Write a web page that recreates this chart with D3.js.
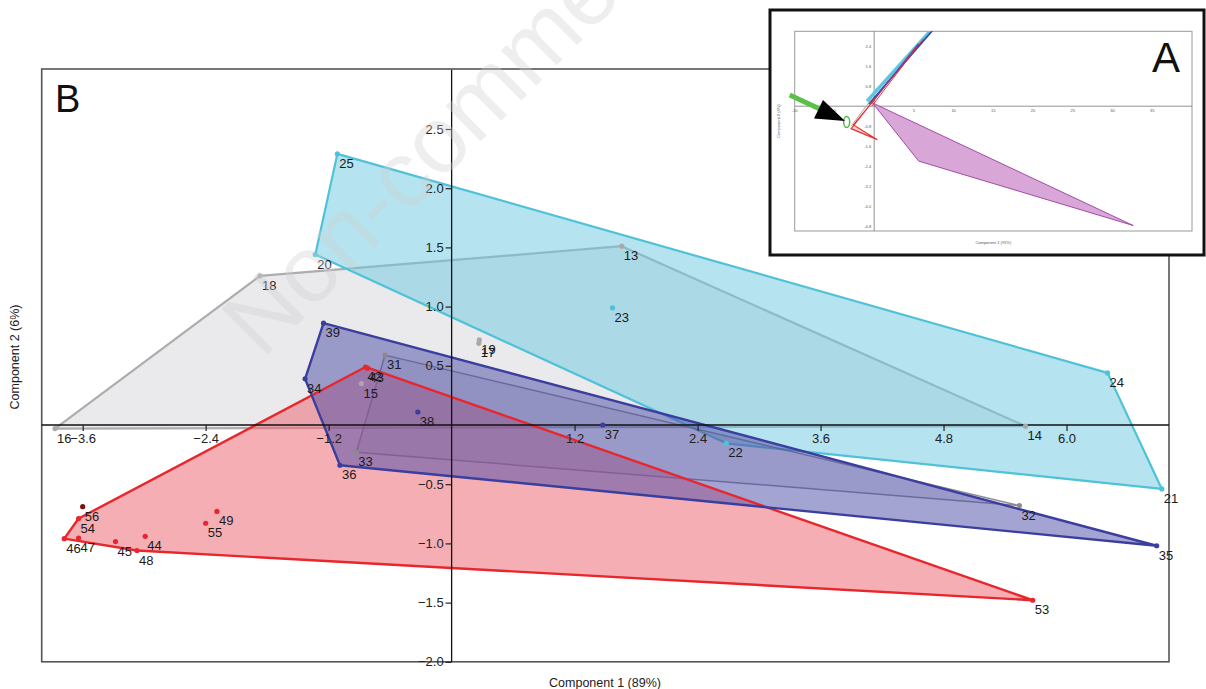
<!DOCTYPE html>
<html>
<head>
<meta charset="utf-8">
<script src="https://cdn.jsdelivr.net/npm/d3@7"></script>
<style>
  body { margin: 0; background: #fff; }
  svg { display: block; font-family: "Liberation Sans", Arial, sans-serif; }
</style>
</head>
<body>
<svg id="chart" width="1206" height="689"></svg>
<script>
// ---- main plot data (Component 1 / Component 2 scores) ----
let greyIds = ["13", "14", "15", "16", "17", "18", "19"];
let greyX = [1.66, 5.60, -0.88, -3.87, 0.265, -1.87, 0.27];
let greyY = [1.51, -0.01, 0.35, -0.03, 0.69, 1.26, 0.72];

let cyanIds = ["20", "21", "22", "23", "24", "25"];
let cyanX = [-1.33, 6.93, 2.68, 1.57, 6.40, -1.115];
let cyanY = [1.44, -0.54, -0.155, 0.99, 0.44, 2.29];

let dgreyIds = ["31", "32", "33"];
let dgreyX = [-0.65, 5.54, -0.93];
let dgreyY = [0.59, -0.68, -0.23];

let blueIds = ["34", "35", "36", "37", "38", "39"];
let blueX = [-1.43, 6.88, -1.09, 1.475, -0.33, -1.25];
let blueY = [0.39, -1.02, -0.34, 0.0, 0.11, 0.86];

let redIds = ["42", "43", "44", "45", "46", "47", "48", "49", "53", "54", "55"];
let redX = [-0.84, -0.82, -2.99, -3.28, -3.78, -3.64, -3.07, -2.29, 5.67, -3.64, -2.40];
let redY = [0.49, 0.48, -0.94, -0.985, -0.96, -0.955, -1.06, -0.73, -1.48, -0.79, -0.83];

let dredIds = ["56"];
let dredX = [-3.60];
let dredY = [-0.69];

let xTicks = [-3.6, -2.4, -1.2, 1.2, 2.4, 3.6, 4.8, 6.0];
let yTicks = [2.5, 2.0, 1.5, 1.0, 0.5, -0.5, -1.0, -1.5, -2.0];

// ---- inset (panel A) data ----
let insetMagX = [-0.2, 5.6, 32.6];
let insetMagY = [0.13, -2.2, -4.78];
let insetCyanX = [-0.9, 7.6];
let insetCyanY = [0.2, 3.2];
let insetBlueX = [-0.7, 7.8];
let insetBlueY = [0.08, 3.2];
let insetPurpX = [-0.4, 5.6];
let insetPurpY = [0.1, 2.5];
let insetRedX = [0.1, -2.9, 0.4, -2.6, 0.0];
let insetRedY = [0.3, -0.9, -1.34, -0.75, 0.25];
let insetGreyX = [-2.9, -0.3];
let insetGreyY = [-0.8, 0.3];
let insetXTicks = [-10, -5, 5, 10, 15, 20, 25, 30, 35];
let insetYTicks = [2.4, 1.6, 0.8, -0.8, -1.6, -2.4, -3.2, -4.0, -4.8];

let svg = d3.select("#chart");

let x = d3.scaleLinear().domain([-4, 7]).range([41.7, 1169]);
let y = d3.scaleLinear().domain([-2, 3]).range([661.8, 69.8]);

let groups = [
  {ids: greyIds, xs: greyX, ys: greyY, stroke: "#adadad", fill: "#dcdcdf", op: 0.6, dot: "#a9a9a9"},
  {ids: cyanIds, xs: cyanX, ys: cyanY, stroke: "#4fc2d8", fill: "#6cc8df", op: 0.5, dot: "#4fc2d8"},
  {ids: dgreyIds, xs: dgreyX, ys: dgreyY, stroke: "#707080", fill: "#9a9aa8", op: 0.2, dot: "#8a8a8a"},
  {ids: redIds, xs: redX, ys: redY, stroke: "#e8262c", fill: "#ec6470", op: 0.52, dot: "#e8262c"},
  {ids: blueIds, xs: blueX, ys: blueY, stroke: "#3a3e9e", fill: "#4a4aa6", op: 0.5, dot: "#3a3e9e"},
  {ids: dredIds, xs: dredX, ys: dredY, stroke: null, dot: "#7a1212"}
];
groups.forEach(g => {
  g.pts = g.ids.map((id, i) => ({id: id, px: x(g.xs[i]), py: y(g.ys[i])}));
  g.hull = g.pts.length > 2 ? d3.polygonHull(g.pts.map(p => [p.px, p.py])) : null;
});

let plot = svg.append("g");

// frame
plot.append("rect").attr("x", 41.7).attr("y", 69).attr("width", 1169 - 41.7).attr("height", 661.8 - 69)
  .attr("fill", "#fff").attr("stroke", "#555").attr("stroke-width", 1.6);

// hull fills; grey, cyan, dark grey drawn whole, red and blue strokes on top of fills
let hullLine = d3.line().curve(d3.curveLinearClosed);
groups.forEach((g, k) => {
  if (!g.hull) return;
  plot.append("path").attr("d", hullLine(g.hull))
    .attr("fill", g.fill).attr("fill-opacity", g.op).attr("stroke", "none");
  if (k < 3) {
    plot.append("path").attr("d", hullLine(g.hull))
      .attr("fill", "none").attr("stroke", g.stroke)
      .attr("stroke-width", k == 2 ? 1.5 : 2.2).attr("stroke-opacity", k == 2 ? 0.8 : 1)
      .attr("stroke-linejoin", "round");
  }
});
groups.forEach((g, k) => {
  if (!g.hull || k < 3) return;
  plot.append("path").attr("d", hullLine(g.hull))
    .attr("fill", "none").attr("stroke", g.stroke).attr("stroke-width", 2.4)
    .attr("stroke-linejoin", "round");
});

// axes through origin
let xAxis = d3.axisBottom(x).tickValues(xTicks).tickSize(6).tickPadding(3)
  .tickFormat(d3.format(".1f"));
let gx = plot.append("g").attr("transform", `translate(0,${y(0)})`).call(xAxis);
gx.select(".domain").attr("d", `M${x(-4)},0H${x(7)}`).attr("stroke", "#111").attr("stroke-width", 1.3);
gx.selectAll(".tick line").attr("stroke", "#222").attr("stroke-width", 1.2);
gx.selectAll(".tick text").attr("font-size", 13).attr("fill", "#222")
  .attr("font-family", "Liberation Sans, Arial, sans-serif");

let yAxis = d3.axisLeft(y).tickValues(yTicks).tickSize(6).tickPadding(2)
  .tickFormat(d3.format(".1f"));
let gy = plot.append("g").attr("transform", `translate(${x(0)},0)`).call(yAxis);
gy.select(".domain").attr("d", `M0,${y(-2)}V${y(3)}`).attr("stroke", "#111").attr("stroke-width", 1.3);
gy.selectAll(".tick line").attr("stroke", "#222").attr("stroke-width", 1.2);
gy.selectAll(".tick text").attr("font-size", 13).attr("fill", "#222")
  .attr("font-family", "Liberation Sans, Arial, sans-serif");

// points and labels
groups.forEach(g => {
  plot.selectAll(null).data(g.pts).enter().append("circle")
    .attr("cx", d => d.px).attr("cy", d => d.py).attr("r", 2.6).attr("fill", g.dot);
  plot.selectAll(null).data(g.pts).enter().append("text")
    .attr("x", d => d.px + 2).attr("y", d => d.py + 14)
    .attr("font-size", 13).attr("fill", "#1a1a1a").text(d => d.id);
});

// titles
svg.append("text").attr("x", 605).attr("y", 687).attr("text-anchor", "middle")
  .attr("font-size", 12.5).attr("fill", "#222").text("Component 1 (89%)");
svg.append("text").attr("transform", "translate(19,357) rotate(-90)").attr("text-anchor", "middle")
  .attr("font-size", 12.5).attr("fill", "#222").text("Component 2 (6%)");
svg.append("text").attr("x", 55).attr("y", 112).attr("font-size", 38).attr("fill", "#111").text("B");

// watermark
svg.append("text").attr("transform", "translate(262,360) rotate(-45)")
  .attr("font-size", 94).attr("fill", "#d0d0d0").attr("fill-opacity", 0.36)
  .text("Non-commercial use only");

// ---- inset A ----
let ins = svg.append("g");
ins.append("rect").attr("x", 770).attr("y", 10).attr("width", 434).attr("height", 245)
  .attr("fill", "#fff").attr("stroke", "#111").attr("stroke-width", 3);

let ix = d3.scaleLinear().domain([-10, 40]).range([794.7, 1192]);
let iy = d3.scaleLinear().domain([-5, 3]).range([231, 31.3]);

ins.append("clipPath").attr("id", "insClip").append("rect")
  .attr("x", ix(-10)).attr("y", iy(3)).attr("width", ix(40) - ix(-10)).attr("height", iy(-5) - iy(3));
ins.append("rect").attr("x", ix(-10)).attr("y", iy(3)).attr("width", ix(40) - ix(-10))
  .attr("height", iy(-5) - iy(3)).attr("fill", "#fff").attr("stroke", "#9a9a9a").attr("stroke-width", 1);
ins.append("line").attr("x1", ix(-10)).attr("x2", ix(40)).attr("y1", iy(0)).attr("y2", iy(0))
  .attr("stroke", "#777").attr("stroke-width", 0.8);
ins.append("line").attr("x1", ix(0)).attr("x2", ix(0)).attr("y1", iy(3)).attr("y2", iy(-5))
  .attr("stroke", "#777").attr("stroke-width", 0.8);

ins.selectAll(null).data(insetXTicks).enter().append("text")
  .attr("x", d => ix(d)).attr("y", iy(0) + 6).attr("text-anchor", "middle")
  .attr("font-size", 4).attr("fill", "#555").text(d => d);
ins.selectAll(null).data(insetYTicks).enter().append("text")
  .attr("x", ix(0) - 3).attr("y", d => iy(d) + 1.5).attr("text-anchor", "end")
  .attr("font-size", 4).attr("fill", "#555").text(d => d.toFixed(1));

let iclip = ins.append("g").attr("clip-path", "url(#insClip)");
let ipts = (xs, ys) => xs.map((v, i) => [ix(v), iy(ys[i])]);
iclip.append("path").attr("d", d3.line().curve(d3.curveLinearClosed)(ipts(insetMagX, insetMagY)))
  .attr("fill", "#d9a6d8").attr("stroke", "#a24aa6").attr("stroke-width", 1);
iclip.append("path").attr("d", d3.line()(ipts(insetCyanX, insetCyanY)))
  .attr("stroke", "#58c8e4").attr("stroke-width", 3.5).attr("fill", "none");
iclip.append("path").attr("d", d3.line()(ipts(insetBlueX, insetBlueY)))
  .attr("stroke", "#2f3fa6").attr("stroke-width", 1.6).attr("fill", "none");
iclip.append("path").attr("d", d3.line()(ipts(insetPurpX, insetPurpY)))
  .attr("stroke", "#8a3a8a").attr("stroke-width", 1.4).attr("fill", "none");
iclip.append("path").attr("d", d3.line()(ipts(insetGreyX, insetGreyY)))
  .attr("stroke", "#aaa").attr("stroke-width", 1).attr("fill", "none");
iclip.append("path").attr("d", d3.line().curve(d3.curveLinearClosed)(ipts(insetRedX, insetRedY)))
  .attr("stroke", "#e83030").attr("stroke-width", 1.2).attr("fill", "#f4a0a0").attr("fill-opacity", 0.5);
iclip.append("path").attr("d", d3.line()(ipts([-0.3, 6.2], [0.0, 2.7])))
  .attr("stroke", "#e83030").attr("stroke-width", 1).attr("fill", "none");

// green marker ellipse and arrows
ins.append("ellipse").attr("cx", ix(-3.46)).attr("cy", iy(-0.63)).attr("rx", 3).attr("ry", 5.5)
  .attr("fill", "none").attr("stroke", "#4fb848").attr("stroke-width", 1.5);
ins.append("line").attr("x1", 789.7).attr("y1", 95).attr("x2", 822).attr("y2", 110)
  .attr("stroke", "#5cbf47").attr("stroke-width", 5);
ins.append("path").attr("d", "M823,100L845,121L814,118.5Z").attr("fill", "#000");

ins.append("text").attr("x", ix(15)).attr("y", 244).attr("text-anchor", "middle")
  .attr("font-size", 4).attr("fill", "#555").text("Component 1 (91%)");
ins.append("text").attr("transform", `translate(780,${iy(-0.6)}) rotate(-90)`).attr("text-anchor", "middle")
  .attr("font-size", 4).attr("fill", "#555").text("Component 2 (4%)");
ins.append("text").attr("x", 1152).attr("y", 72).attr("font-size", 42).attr("fill", "#111").text("A");
</script>
</body>
</html>
